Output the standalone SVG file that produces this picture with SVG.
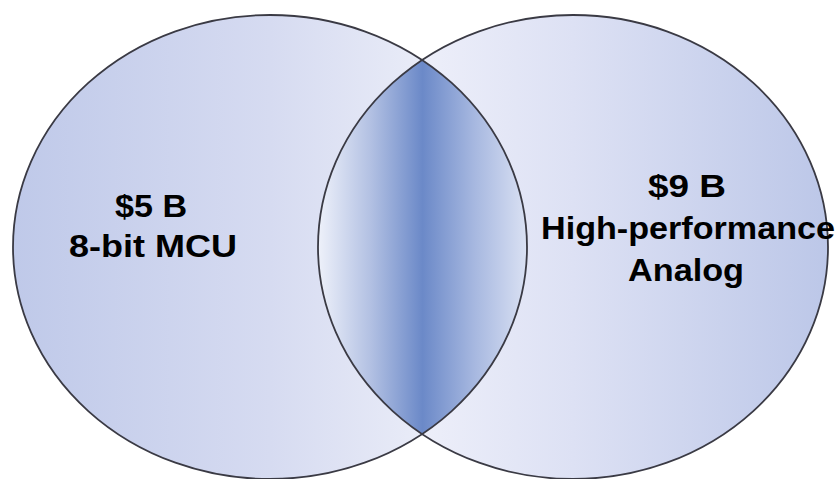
<svg xmlns="http://www.w3.org/2000/svg" width="838" height="479" viewBox="0 0 838 479">
  <style>
    .outline { fill: none; stroke: #3a3a44; stroke-width: 1.8; }
    .label { font-family: "Liberation Sans", Arial, sans-serif; font-weight: bold; font-size: 31px; fill: #000; text-anchor: middle; }
  </style>
  <defs>
    <linearGradient id="gradLeft" gradientUnits="userSpaceOnUse" x1="13" y1="0" x2="527" y2="0">
      <stop offset="0" stop-color="#bfc9e9"/>
      <stop offset="0.5" stop-color="#d6dbf1"/>
      <stop offset="1" stop-color="#f6f7fc"/>
    </linearGradient>
    <linearGradient id="gradRight" gradientUnits="userSpaceOnUse" x1="318" y1="0" x2="828" y2="0">
      <stop offset="0" stop-color="#f8f8fd"/>
      <stop offset="0.5" stop-color="#dde1f4"/>
      <stop offset="1" stop-color="#bcc7e8"/>
    </linearGradient>
    <linearGradient id="gradLens" gradientUnits="userSpaceOnUse" x1="318" y1="0" x2="527" y2="0">
      <stop offset="0" stop-color="#eef1fa"/>
      <stop offset="0.25" stop-color="#b3c1e3"/>
      <stop offset="0.5" stop-color="#6b89c8"/>
      <stop offset="0.75" stop-color="#a7b8e0"/>
      <stop offset="1" stop-color="#dae1f3"/>
    </linearGradient>
    <clipPath id="clipLeft">
      <ellipse cx="270" cy="247" rx="257" ry="232"/>
    </clipPath>
  </defs>
  <rect x="0" y="0" width="838" height="479" fill="#ffffff"/>
  <g id="left-circle">
    <ellipse cx="270" cy="247" rx="257" ry="232" fill="url(#gradLeft)"/>
  </g>
  <g id="right-circle">
    <ellipse cx="573" cy="247" rx="255" ry="232" fill="url(#gradRight)"/>
  </g>
  <g id="overlap">
    <ellipse cx="573" cy="247" rx="255" ry="232" fill="url(#gradLens)" clip-path="url(#clipLeft)"/>
  </g>
  <g id="outlines">
    <ellipse class="outline" cx="270" cy="247" rx="257" ry="232"/>
    <ellipse class="outline" cx="573" cy="247" rx="255" ry="232"/>
  </g>
  <g id="left-label">
    <text class="label" x="151" y="217" textLength="72" lengthAdjust="spacingAndGlyphs">$5 B</text>
    <text class="label" x="153" y="257" textLength="168" lengthAdjust="spacingAndGlyphs">8-bit MCU</text>
  </g>
  <g id="right-label">
    <text class="label" x="687" y="197" textLength="78" lengthAdjust="spacingAndGlyphs">$9 B</text>
    <text class="label" x="688" y="239" textLength="294" lengthAdjust="spacingAndGlyphs">High-performance</text>
    <text class="label" x="686" y="281" textLength="116" lengthAdjust="spacingAndGlyphs">Analog</text>
  </g>
</svg>
